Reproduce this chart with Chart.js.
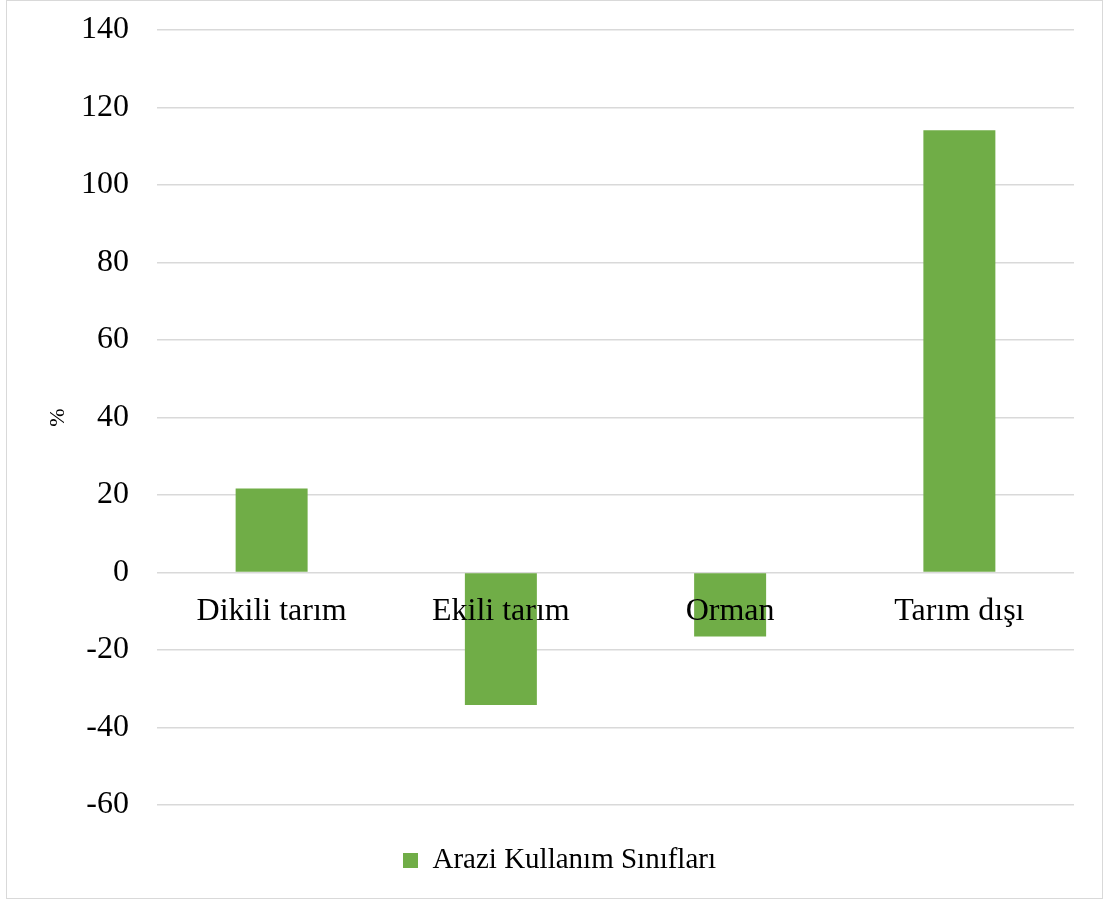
<!DOCTYPE html>
<html>
<head>
<meta charset="utf-8">
<script src="https://cdn.jsdelivr.net/npm/chart.js@4"></script>
<style>
  body { margin: 0; background: #fff; }
  #frame {
    position: absolute; left: 6px; top: 0px;
    width: 1097px; height: 899px;
    border: 1.5px solid #d9d9d9; box-sizing: border-box;
  }
  #wrap { position: absolute; left: 0; top: 0; width: 1107px; height: 901px; }
</style>
</head>
<body>
<div id="frame"></div>
<div id="wrap"><canvas id="chart" width="1107" height="901"></canvas></div>
<script>
const categories = ['Dikili tarım', 'Ekili tarım', 'Orman', 'Tarım dışı'];
const changeValues = [21.7, -34.2, -16.5, 114.1];
const seriesLabel = 'Arazi Kullanım Sınıfları';
const yMin = -60;
const yMax = 140;
const yStep = 20;

const serif = "'Liberation Serif', 'Times New Roman', serif";

const ctx = document.getElementById('chart').getContext('2d');
new Chart(ctx, {
    type: 'bar',
    data: {
        labels: categories,
        datasets: [{
            label: seriesLabel,
            data: changeValues,
            backgroundColor: '#70AD47',
            borderWidth: 0,
            categoryPercentage: 1,
            barPercentage: 0.314,
        }]
    },
    options: {
        responsive: false,
        animation: false,
        maintainAspectRatio: false,
        layout: {
            padding: { left: 45, right: 33, top: 0, bottom: 16 },
        },
        plugins: {
            tooltip: { enabled: false },
            legend: {
                display: true,
                position: 'bottom',
                labels: {
                    boxWidth: 15,
                    boxHeight: 15,
                    color: '#000',
                    font: { family: serif, size: 29 },
                    padding: 20,
                },
            },
        },
        scales: {
            x: {
                position: { y: 0 },
                grid: { display: false, drawTicks: false },
                border: { display: false },
                ticks: {
                    z: 1,
                    color: '#000',
                    font: { family: serif, size: 32 },
                    padding: 20,
                    maxRotation: 0,
                    autoSkip: false,
                },
            },
            // empty axis that only keeps a gap between the plot and the legend
            gap: {
                type: 'category',
                axis: 'x',
                position: 'bottom',
                grid: { display: false, drawTicks: false },
                border: { display: false },
                ticks: { display: false },
                afterFit(scale) { scale.height = 21; },
            },
            y: {
                min: yMin,
                max: yMax,
                border: { display: false },
                grid: { color: '#d9d9d9', lineWidth: 1.5, drawTicks: false },
                ticks: {
                    stepSize: yStep,
                    color: '#000',
                    font: { family: serif, size: 32 },
                    padding: 28,
                },
                title: {
                    display: true,
                    text: '%',
                    color: '#000',
                    font: { family: serif, size: 22 },
                    padding: 0,
                },
                afterFit(scale) {
                    scale.width = 112;
                    scale.paddingTop = 30;
                    scale.paddingBottom = 0;
                },
            },
        },
    },
});
</script>
</body>
</html>
